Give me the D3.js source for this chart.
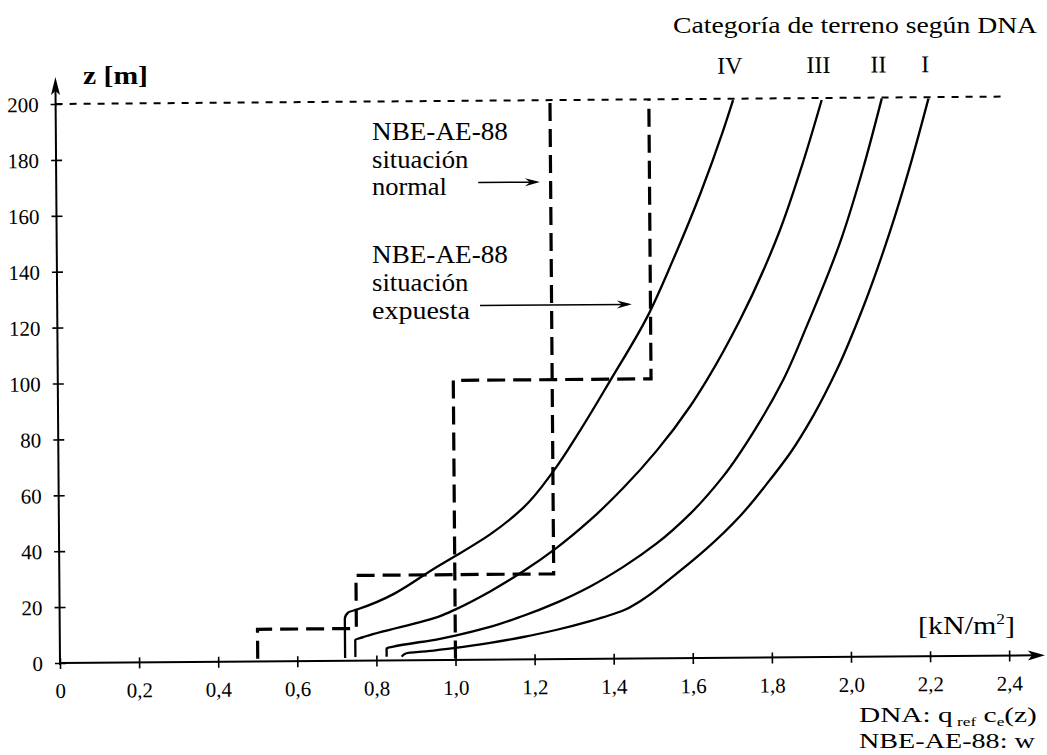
<!DOCTYPE html>
<html>
<head>
<meta charset="utf-8">
<script src="https://cdn.jsdelivr.net/npm/d3@7"></script>
<style>
  html, body { margin: 0; padding: 0; background: #fff; }
  svg { display: block; }
</style>
</head>
<body>
<svg id="chart" width="1047" height="755"></svg>
<script>
// ---------- data ----------
const xTicks = [0, 0.2, 0.4, 0.6, 0.8, 1.0, 1.2, 1.4, 1.6, 1.8, 2.0, 2.2, 2.4];
const xTickLabels = ["0", "0,2", "0,4", "0,6", "0,8", "1,0", "1,2", "1,4", "1,6", "1,8", "2,0", "2,2", "2,4"];
const yTicks = [0, 20, 40, 60, 80, 100, 120, 140, 160, 180, 200];
const categories = ["I", "II", "III", "IV"];

// DNA curves: [q_ref·ce(z) kN/m², z m]
const curveI = [[0.864, 1.3], [0.876, 2.5], [0.93, 3.2], [1.0, 4.3], [1.088, 6.0], [1.172, 8.0], [1.257, 10.5],
  [1.341, 13.5], [1.425, 17.2], [1.468, 20.5], [1.552, 29.3], [1.637, 39.1], [1.722, 50.6], [1.79, 62],
  [1.85, 73], [1.91, 86.5], [1.97, 102.7], [2.038, 125.1], [2.107, 152], [2.159, 175.4], [2.207, 199.5]];
const curveII = [[0.826, 1.3], [0.826, 4.3], [0.843, 4.9], [0.961, 7.6], [1.0, 8.7], [1.088, 11.7], [1.171, 15.5],
  [1.257, 20.2], [1.341, 25.8], [1.426, 32.8], [1.511, 41.1], [1.596, 51.6], [1.681, 65], [1.766, 82.5],
  [1.834, 99.2], [1.895, 118.5], [1.985, 150], [2.041, 175], [2.089, 199.7]];
const curveIII = [[0.747, 1.3], [0.747, 7.4], [0.767, 8.4], [0.962, 15.7], [1.0, 18], [1.089, 24.4], [1.173, 31.5],
  [1.258, 39.8], [1.343, 49.6], [1.428, 61.1], [1.513, 74.3], [1.598, 90], [1.641, 99.4], [1.726, 120.8],
  [1.829, 152.9], [1.888, 176.8], [1.937, 199.3]];
const curveIV = [[0.721, 1.0], [0.721, 15], [0.73, 17.3], [0.752, 18.3], [0.963, 34], [1.006, 37.5], [1.09, 44.8],
  [1.174, 54.2], [1.25, 67], [1.32, 81.8], [1.396, 99.3], [1.491, 122], [1.558, 142.5], [1.628, 166],
  [1.687, 188.5], [1.713, 199.5]];

// NBE-AE-88 step values w [kN/m²] vs z
const nbeNormal = [[0.5, 1], [0.5, 11.5], [0.75, 11.5], [0.75, 30.5], [1.25, 30.5], [1.25, 200]];
const nbeExpuesta = [[1.0, 0.5], [1.0, 100], [1.5, 100], [1.5, 200]];
const topLine = [[0, 200], [2.4, 200]];

// annotation arrows [x0, x1, z]
const arrowNormal = [1.067, 1.223, 170.7];
const arrowExpuesta = [1.069, 1.453, 126.7];

// ---------- drawing ----------
const FONT = "'Liberation Serif', 'Times New Roman', serif";
const svg = d3.select("#chart");

const x = d3.scaleLinear().domain([0, 2.4]).range([60, 1009.2]);
const y = d3.scaleLinear().domain([0, 200]).range([663, 104]);

// slight scan rotation
const g = svg.append("g").attr("transform", "rotate(-0.45, 60, 663)");

const line = d3.line().x(d => x(d[0])).y(d => y(d[1]));
const smooth = d3.line().x(d => x(d[0])).y(d => y(d[1])).curve(d3.curveMonotoneY);

// x axis
const xAxis = d3.axisBottom(x).tickValues(xTicks)
  .tickFormat((d, i) => xTickLabels[i]).tickSizeInner(5).tickSizeOuter(0).tickPadding(14);
const gx = g.append("g").attr("transform", `translate(0,${y(0)})`).call(xAxis);
gx.select(".domain").remove();
gx.selectAll(".tick line").attr("y1", -5).attr("y2", 6).attr("stroke", "#000").attr("stroke-width", 1.6);
gx.selectAll(".tick text").attr("font-family", FONT).attr("font-size", 21).attr("fill", "#000")
  .attr("dy", 0).attr("y", 35);

// y axis
const yAxis = d3.axisLeft(y).tickValues(yTicks).tickFormat(d3.format("d"))
  .tickSizeInner(5).tickSizeOuter(0).tickPadding(12);
const gy = g.append("g").attr("transform", `translate(${x(0)},0)`).call(yAxis);
gy.select(".domain").remove();
gy.selectAll(".tick line").attr("x1", -5).attr("x2", 6).attr("stroke", "#000").attr("stroke-width", 1.6);
gy.selectAll(".tick text").attr("font-family", FONT).attr("font-size", 21).attr("fill", "#000")
  .attr("x", -17).attr("dy", "0.35em");

// axis lines with arrows
const X0 = x(0), Y0 = y(0);
g.append("line").attr("x1", X0).attr("y1", Y0).attr("x2", 1036).attr("y2", Y0)
  .attr("stroke", "#000").attr("stroke-width", 2);
g.append("path").attr("d", `M1045,${Y0} L1028,${Y0 - 5} L1032,${Y0} L1028,${Y0 + 5} Z`).attr("fill", "#000");
g.append("line").attr("x1", X0).attr("y1", Y0 + 2).attr("x2", X0).attr("y2", 88)
  .attr("stroke", "#000").attr("stroke-width", 2);
g.append("path").attr("d", `M${X0},77 L${X0 - 4.5},95 L${X0},91 L${X0 + 4.5},95 Z`).attr("fill", "#000");

// top dotted line at z = 200
g.append("path").attr("d", line(topLine)).attr("fill", "none")
  .attr("stroke", "#000").attr("stroke-width", 2).attr("stroke-dasharray", "7,7");

// NBE step lines
[nbeNormal, nbeExpuesta].forEach(s => {
  g.append("path").attr("d", line(s)).attr("fill", "none")
    .attr("stroke", "#000").attr("stroke-width", 3.2).attr("stroke-dasharray", "18,8");
});

// DNA curves
const curves = [curveI, curveII, curveIII, curveIV];
curves.forEach(c => {
  g.append("path").attr("d", smooth(c)).attr("fill", "none")
    .attr("stroke", "#000").attr("stroke-width", 2.3).attr("stroke-linejoin", "round");
});

// category numerals above curve tops
curves.forEach((c, i) => {
  const top = c[c.length - 1];
  g.append("text").attr("x", x(top[0]) - 3).attr("y", y(200) - 25)
    .attr("text-anchor", "middle").attr("font-family", FONT).attr("font-size", 24)
    .text(categories[i]);
});

// annotation arrows
[arrowNormal, arrowExpuesta].forEach(a => {
  const x0 = x(a[0]), x1 = x(a[1]), yy = y(a[2]);
  g.append("line").attr("x1", x0).attr("y1", yy).attr("x2", x1 - 4).attr("y2", yy)
    .attr("stroke", "#000").attr("stroke-width", 1.5);
  g.append("path").attr("d", `M${x1},${yy} L${x1 - 15},${yy - 4} L${x1 - 10},${yy} L${x1 - 15},${yy + 4} Z`)
    .attr("fill", "#000");
});

// ---------- texts (stretched to the scanned widths) ----------
function stretchText(xp, yp, size, target, build, weight) {
  const t = svg.append("text").attr("font-family", FONT).attr("font-size", size)
    .attr("font-weight", weight || "normal").attr("fill", "#000");
  build(t);
  const w = t.node().getBBox().width;
  const sx = w > 0 ? target / w : 1;
  t.attr("transform", `translate(${xp},${yp}) scale(${sx},1)`);
  return t;
}

stretchText(673, 33, 24, 365, t => t.text("Categoría de terreno según DNA"));
stretchText(83, 84, 26, 65, t => t.text("z [m]"), "bold");

stretchText(372, 140, 25, 136, t => t.text("NBE-AE-88"));
stretchText(372, 167.5, 25, 97, t => t.text("situación"));
stretchText(372, 195, 25, 75, t => t.text("normal"));
stretchText(372, 263, 25, 136, t => t.text("NBE-AE-88"));
stretchText(372, 291, 25, 97, t => t.text("situación"));
stretchText(372, 318.5, 25, 98, t => t.text("expuesta"));

stretchText(918, 634, 26, 97, t => {
  t.append("tspan").text("[kN/m");
  t.append("tspan").attr("font-size", 15).attr("dy", -10).text("2");
  t.append("tspan").attr("dy", 10).text("]");
});

stretchText(859, 722, 22, 178, t => {
  t.append("tspan").text("DNA: q");
  t.append("tspan").attr("font-size", 13).attr("dy", 4).text(" ref");
  t.append("tspan").attr("dy", -4).text(" c");
  t.append("tspan").attr("font-size", 13).attr("dy", 4).text("e");
  t.append("tspan").attr("dy", -4).text("(z)");
});
stretchText(859, 748, 22, 176, t => t.text("NBE-AE-88: w"));
</script>
</body>
</html>
